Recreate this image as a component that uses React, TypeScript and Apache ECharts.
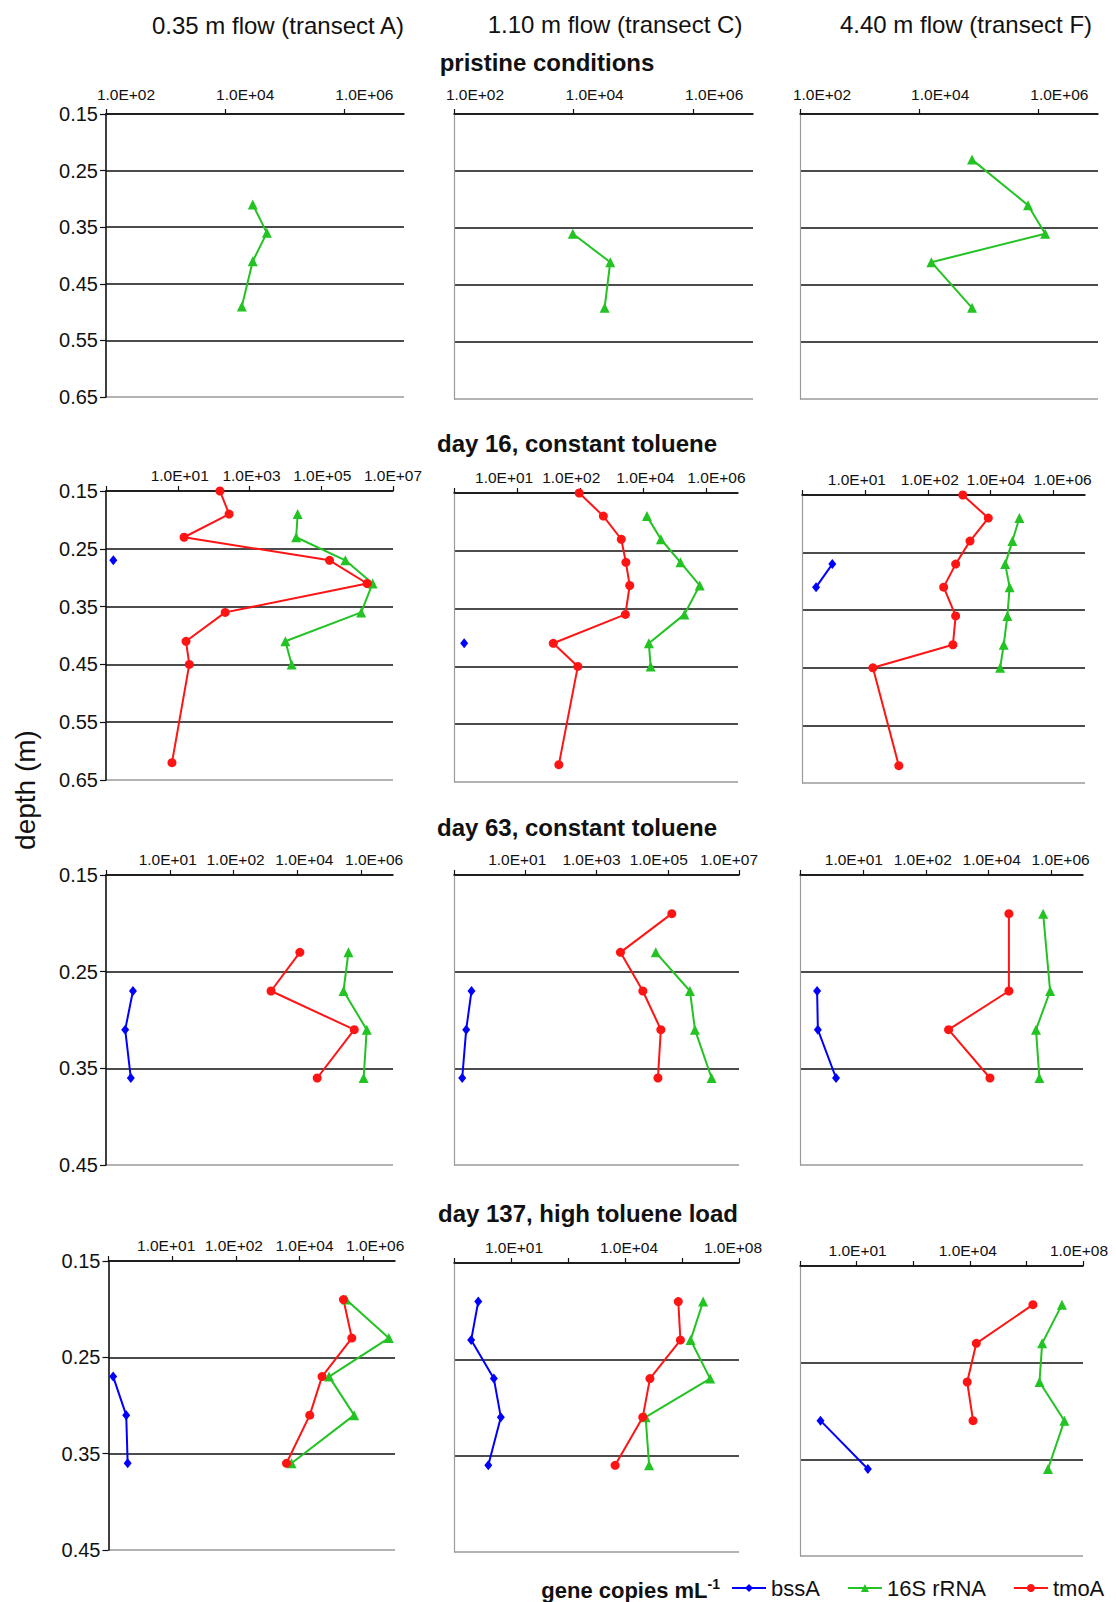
import React, { useEffect, useRef } from 'react';
import * as echarts from 'echarts';

const FONT = "'Liberation Sans', Arial, Helvetica, sans-serif";
const C_BSSA = '#0000ff';
const C_RRNA = '#22c322';
const C_TMOA = '#ff1414';

const GENES = ['bssA', '16S rRNA', 'tmoA'];
const COLUMN_TITLES = ['0.35 m flow (transect A)', '1.10 m flow (transect C)', '4.40 m flow (transect F)'];
const ROW_TITLES = ['pristine conditions', 'day 16, constant toluene', 'day 63, constant toluene', 'day 137, high toluene load'];

// x tick labels (gene copies per mL, log scale)
const TICKS_P = ['1.0E+02', '1.0E+04', '1.0E+06'];
const TICKS_A = ['', '1.0E+01', '1.0E+03', '1.0E+05', '1.0E+07'];
const TICKS_B = ['', '1.0E+01', '1.0E+02', '1.0E+04', '1.0E+06'];
const TICKS_C = ['', '1.0E+01', '', '1.0E+04', '', '1.0E+08'];

// ---- pristine conditions ----
const depthPriA = [0.31, 0.36, 0.41, 0.49];
const rrnaPriA = [2.9e4, 5.0e4, 2.9e4, 1.9e4];
const depthPriC = [0.36, 0.41, 0.49];
const rrnaPriC = [9.7e3, 4.1e4, 3.3e4];
const depthPriF = [0.23, 0.31, 0.36, 0.41, 0.49];
const rrnaPriF = [7.7e4, 6.7e5, 1.3e6, 1.6e4, 7.7e4];

// ---- day 16, constant toluene ----
const depthD16 = [0.15, 0.19, 0.23, 0.27, 0.31, 0.36, 0.41, 0.45, 0.62];
const depthD16r = [0.19, 0.23, 0.27, 0.31, 0.36, 0.41, 0.45];
const tmoaD16A = [1.5e2, 2.7e2, 1.5e1, 1.7e5, 1.9e6, 2.1e2, 1.7e1, 2.1e1, 6.9];
const rrnaD16A = [2.2e4, 2.0e4, 4.7e5, 2.7e6, 1.3e6, 1.0e4, 1.5e4];
const depthBssD16A = [0.27];
const bssaD16A = [0.16];
const tmoaD16C = [9.3e2, 5.4e3, 2.0e4, 2.8e4, 3.7e4, 2.7e4, 1.4e2, 8.4e2, 2.1e2];
const rrnaD16C = [1.3e5, 3.6e5, 1.5e6, 6.1e6, 2.0e6, 1.5e5, 1.7e5];
const depthBssD16C = [0.41];
const bssaD16C = [0.21];
const tmoaD16F = [1.3e4, 8.4e4, 2.2e4, 7.7e3, 3.2e3, 7.7e3, 6.3e3, 1.8e1, 1.2e2];
const rrnaD16F = [8.2e5, 4.9e5, 2.9e5, 4.0e5, 3.4e5, 2.6e5, 2.0e5];
const depthBssD16F = [0.27, 0.31];
const bssaD16F = [0.92, 0.28];

// ---- day 63, constant toluene ----
const depthD63A = [0.23, 0.27, 0.31, 0.36];
const tmoaD63A = [1.2e5, 1.5e4, 6.1e6, 4.2e5];
const rrnaD63A = [4.0e6, 2.8e6, 1.5e7, 1.2e7];
const depthBssD63 = [0.27, 0.31, 0.36];
const bssaD63A = [0.7, 0.4, 0.6];
const depthTmoD63C = [0.19, 0.23, 0.27, 0.31, 0.36];
const tmoaD63C = [1.3e5, 4.7e3, 2.0e4, 6.4e4, 5.3e4];
const depthRrnD63C = [0.23, 0.27, 0.31, 0.36];
const rrnaD63C = [4.6e4, 4.2e5, 5.8e5, 1.7e6];
const bssaD63C = [0.31, 0.22, 0.17];
const depthD63F = [0.19, 0.27, 0.31, 0.36];
const tmoaD63F = [4.4e5, 4.4e5, 5.3e3, 1.1e5];
const rrnaD63F = [5.4e6, 9.0e6, 3.2e6, 4.1e6];
const bssaD63F = [0.35, 0.37, 1.4];

// ---- day 137, high toluene load ----
const depthD137 = [0.19, 0.23, 0.27, 0.31, 0.36];
const tmoaD137A = [2.4e6, 4.4e6, 5.1e5, 2.1e5, 3.9e4];
const rrnaD137A = [2.9e6, 6.4e7, 8.5e5, 5.2e6, 5.6e4];
const depthBssD137A = [0.27, 0.31, 0.36];
const bssaD137A = [0.14, 0.36, 0.4];
const tmoaD137C = [7.4e6, 8.8e6, 7.5e5, 4.2e5, 4.5e4];
const rrnaD137C = [5.5e7, 2.0e7, 9.7e7, 5.3e5, 7.0e5];
const bssaD137C = [0.71, 0.4, 2.5, 4.4, 1.6];
const depthTmoD137F = [0.19, 0.23, 0.27, 0.31];
const tmoaD137F = [1.7e7, 1.7e5, 8.1e4, 1.3e5];
const rrnaD137F = [1.8e8, 3.6e7, 2.9e7, 2.2e8, 5.8e7];
const depthBssD137F = [0.31, 0.36];
const bssaD137F = [0.53, 25];

type Pair = [number[], number[]];
interface Panel {
  left: number; top: number; width: number; height: number;
  xMin: number; xMax: number; labels: string[]; shifts: number[]; margin: number;
  yMax: number; showY: boolean;
  bssa?: Pair; rrna?: Pair; tmoa?: Pair;
}

const PANELS: Panel[] = [
  { left: 106, top: 114, width: 298, height: 283, xMin: 2, xMax: 7, labels: TICKS_P, shifts: [20, 20, 20], margin: 12, yMax: 0.65, showY: true, rrna: [depthPriA, rrnaPriA] },
  { left: 454, top: 114, width: 299, height: 285, xMin: 2, xMax: 7, labels: TICKS_P, shifts: [21, 21, 21], margin: 12, yMax: 0.65, showY: false, rrna: [depthPriC, rrnaPriC] },
  { left: 800, top: 114, width: 298, height: 285, xMin: 2, xMax: 7, labels: TICKS_P, shifts: [22, 21, 21], margin: 12, yMax: 0.65, showY: false, rrna: [depthPriF, rrnaPriF] },

  { left: 106, top: 491, width: 287, height: 289, xMin: -1, xMax: 7, labels: TICKS_A, shifts: [0, 2, 2, 1, 0], margin: 8, yMax: 0.65, showY: true, bssa: [depthBssD16A, bssaD16A], rrna: [depthD16r, rrnaD16A], tmoa: [depthD16, tmoaD16A] },
  { left: 454, top: 493, width: 284, height: 289, xMin: -1, xMax: 8, labels: TICKS_B, shifts: [0, -13, -9, 2, 10], margin: 8, yMax: 0.65, showY: false, bssa: [depthBssD16C, bssaD16C], rrna: [depthD16r, rrnaD16C], tmoa: [depthD16, tmoaD16C] },
  { left: 802, top: 495, width: 283, height: 288, xMin: -1, xMax: 8, labels: TICKS_B, shifts: [0, -8, 2, 5, 9], margin: 8, yMax: 0.65, showY: false, bssa: [depthBssD16F, bssaD16F], rrna: [depthD16r, rrnaD16F], tmoa: [depthD16, tmoaD16F] },

  { left: 106, top: 875, width: 287, height: 290, xMin: -1, xMax: 8, labels: TICKS_B, shifts: [0, -2, 2, 7, 13], margin: 8, yMax: 0.45, showY: true, bssa: [depthBssD63, bssaD63A], rrna: [depthD63A, rrnaD63A], tmoa: [depthD63A, tmoaD63A] },
  { left: 454, top: 875, width: 285, height: 290, xMin: -1, xMax: 7, labels: TICKS_A, shifts: [0, -8, -5, -9, -10], margin: 8, yMax: 0.45, showY: false, bssa: [depthBssD63, bssaD63C], rrna: [depthRrnD63C, rrnaD63C], tmoa: [depthTmoD63C, tmoaD63C] },
  { left: 800, top: 875, width: 283, height: 290, xMin: -1, xMax: 8, labels: TICKS_B, shifts: [0, -9, -3, 3, 9], margin: 8, yMax: 0.45, showY: false, bssa: [depthBssD63, bssaD63F], rrna: [depthD63F, rrnaD63F], tmoa: [depthD63F, tmoaD63F] },

  { left: 108.5, top: 1261, width: 286.5, height: 289, xMin: -1, xMax: 8, labels: TICKS_B, shifts: [0, -6, -2, 5, 12], margin: 8, yMax: 0.45, showY: true, bssa: [depthBssD137A, bssaD137A], rrna: [depthD137, rrnaD137A], tmoa: [depthD137, tmoaD137A] },
  { left: 454, top: 1263, width: 285, height: 289, xMin: -1, xMax: 9, labels: TICKS_C, shifts: [0, 3, 0, 4, 0, -6], margin: 8, yMax: 0.45, showY: false, bssa: [depthD137, bssaD137C], rrna: [depthD137, rrnaD137C], tmoa: [depthD137, tmoaD137C] },
  { left: 800, top: 1266, width: 283, height: 290, xMin: -1, xMax: 9, labels: TICKS_C, shifts: [0, 1, 0, -2, 0, -4], margin: 8, yMax: 0.45, showY: false, bssa: [depthBssD137F, bssaD137F], rrna: [depthD137, rrnaD137F], tmoa: [depthTmoD137F, tmoaD137F] },
];

const COL_TITLE_POS = [[278, 25], [615, 24], [966, 24]];
const ROW_TITLE_POS = [[547, 62], [577, 443], [577, 827], [588, 1213]];

function buildOption() {
  const grid: any[] = [];
  const xAxis: any[] = [];
  const yAxis: any[] = [];
  const series: any[] = [];

  PANELS.forEach((p, i) => {
    grid.push({ left: p.left, top: p.top, width: p.width, height: p.height, containLabel: false, outerBoundsMode: 'none' });
    const ticks: number[] = [];
    for (let v = p.xMin; v <= p.xMax + 1e-9; v += 2) ticks.push(v);
    const rich: any = {};
    p.shifts.forEach((s, k) => {
      rich['t' + k] = {
        fontSize: 15.5, fontFamily: FONT, color: '#111',
        padding: s >= 0 ? [0, 0, 0, 2 * s] : [0, -2 * s, 0, 0],
      };
    });
    xAxis.push({
      type: 'value', gridIndex: i, position: 'top', min: p.xMin, max: p.xMax, interval: 2,
      axisLine: { show: true, onZero: false, lineStyle: { color: '#111', width: 1.6 } },
      axisTick: { show: true, customValues: ticks, length: 5, inside: false, lineStyle: { color: '#111', width: 1.2 } },
      axisLabel: {
        show: true, customValues: ticks, margin: p.margin, hideOverlap: false, showMinLabel: true, showMaxLabel: true,
        fontSize: 15.5, fontFamily: FONT, color: '#111', rich,
        formatter: (v: number) => {
          const k = Math.round((v - p.xMin) / 2);
          if (Math.abs(v - p.xMin - 2 * k) > 1e-6) return '';
          const t = p.labels[k];
          return t ? `{t${k}|${t}}` : '';
        },
      },
      splitLine: { show: false },
    });
    const nLines = Math.round((p.yMax - 0.15) / 0.1) + 1;
    const lineColors: string[] = [];
    for (let k = 0; k < nLines; k++) lineColors.push(k === nLines - 1 ? '#9a9a9a' : '#111');
    yAxis.push({
      type: 'value', gridIndex: i, inverse: true, min: 0.15, max: p.yMax, interval: 0.1,
      axisLine: { show: true, onZero: false, lineStyle: { color: p.showY ? '#111' : '#9a9a9a', width: p.showY ? 1.6 : 1.2 } },
      axisTick: { show: p.showY, length: 6, inside: false, lineStyle: { color: '#111', width: 1.2 } },
      axisLabel: {
        show: p.showY, margin: 8, fontSize: 20, fontFamily: FONT, color: '#111',
        formatter: (v: number) => v.toFixed(2),
      },
      splitLine: { show: true, lineStyle: { color: lineColors, width: 1.6 } },
    });
    const mk = (name: string, color: string, symbol: string, size: number | number[], pair?: Pair) => {
      if (!pair) return;
      series.push({
        type: 'line', name, xAxisIndex: i, yAxisIndex: i,
        data: pair[0].map((d, k) => [Math.log10(pair[1][k]), d]),
        symbol, symbolSize: size, showSymbol: true,
        lineStyle: { color, width: 2 }, itemStyle: { color },
        emphasis: { disabled: true }, animation: false,
      });
    };
    mk(GENES[0], C_BSSA, 'diamond', [8, 10], p.bssa);
    mk(GENES[1], C_RRNA, 'triangle', [10, 10], p.rrna);
    mk(GENES[2], C_TMOA, 'circle', 9, p.tmoa);
  });

  const graphic: any[] = [];
  COLUMN_TITLES.forEach((t, i) => {
    graphic.push({
      type: 'text', x: COL_TITLE_POS[i][0], y: COL_TITLE_POS[i][1],
      style: { text: t, fontSize: 24, fontFamily: FONT, fill: '#111', align: 'center', verticalAlign: 'middle' },
    });
  });
  ROW_TITLES.forEach((t, i) => {
    graphic.push({
      type: 'text', x: ROW_TITLE_POS[i][0], y: ROW_TITLE_POS[i][1],
      style: { text: t, fontSize: 24, fontWeight: 'bold', fontFamily: FONT, fill: '#111', align: 'center', verticalAlign: 'middle' },
    });
  });
  graphic.push({
    type: 'text', x: 25, y: 790, rotation: Math.PI / 2,
    style: { text: 'depth (m)', fontSize: 28, fontFamily: FONT, fill: '#111', align: 'center', verticalAlign: 'middle' },
  });
  graphic.push({
    type: 'text', x: 720, y: 1589,
    style: {
      text: '{b|gene copies mL}{s|-1}', align: 'right', verticalAlign: 'middle', fontFamily: FONT,
      rich: {
        b: { fontSize: 22, fontWeight: 'bold', fontFamily: FONT, fill: '#111', lineHeight: 24, verticalAlign: 'bottom' },
        s: { fontSize: 14, fontWeight: 'bold', fontFamily: FONT, fill: '#111', lineHeight: 24, verticalAlign: 'top' },
      },
    },
  });

  return {
    animation: false,
    backgroundColor: '#ffffff',
    grid, xAxis, yAxis, series, graphic,
    legend: {
      data: GENES, left: 731, top: 1577, padding: 0, itemWidth: 34, itemHeight: 10, itemGap: 27,
      selectedMode: false,
      textStyle: { fontSize: 22, fontFamily: FONT, color: '#111' },
    },
  };
}

export default function App() {
  const ref = useRef<HTMLDivElement>(null);
  useEffect(() => {
    if (!ref.current) return;
    const chart = echarts.init(ref.current, undefined, { renderer: 'svg' });
    chart.setOption(buildOption() as any);
    return () => chart.dispose();
  }, []);
  return (
    <div
      ref={ref}
      style={{ position: 'absolute', left: 0, top: 0, width: 1116, height: 1602, background: '#fff' }}
    />
  );
}
